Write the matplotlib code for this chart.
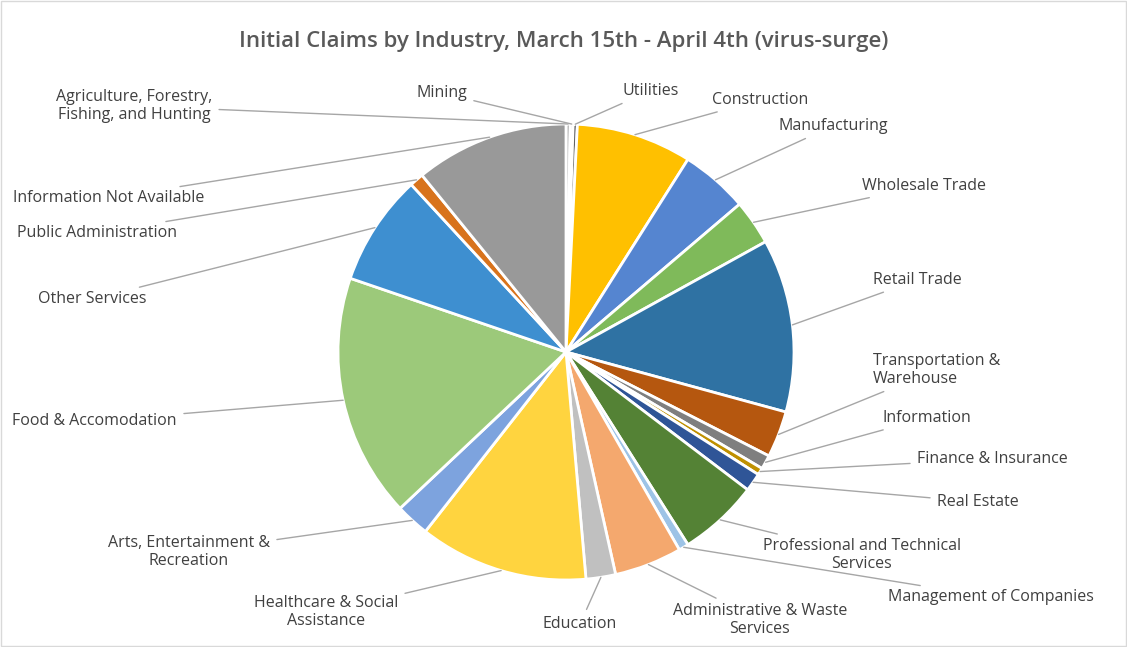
import matplotlib
matplotlib.use("Agg")
import matplotlib.pyplot as plt
import numpy as np
from matplotlib.patches import Rectangle

industries = ["Agriculture, Forestry,\nFishing, and Hunting", "Mining", "Utilities", "Construction",
              "Manufacturing", "Wholesale Trade", "Retail Trade", "Transportation &\nWarehouse",
              "Information", "Finance & Insurance", "Real Estate", "Professional and Technical\nServices",
              "Management of Companies", "Administrative & Waste\nServices", "Education",
              "Healthcare & Social\nAssistance", "Arts, Entertainment &\nRecreation", "Food & Accomodation",
              "Other Services", "Public Administration", "Information Not Available"]
shares = [0.3, 0.2, 0.3, 8.2, 4.8, 3.2, 12.3, 3.3, 1.0, 0.5, 1.3, 5.7, 0.7, 4.8, 2.1,
          12.0, 2.4, 17.3, 7.9, 1.0, 10.9]
colors = ["#A5A5A5", "#264478", "#636363", "#FFC000", "#5585D0", "#7FBA5A", "#2F72A3", "#B5570F",
          "#7F7F7F", "#BF9000", "#2F5597", "#548235", "#9DC3E6", "#F4A86E", "#C0C0C0",
          "#FFD43F", "#7DA3DE", "#9CC97A", "#3E8FD0", "#D8731C", "#999999"]
# label positions (pixels from top-left), alignment
label_pos = [(134, 106, "center"), (467, 93, "right"), (622, 91, "left"), (712, 100, "left"),
             (778, 126, "left"), (862, 186, "left"), (873, 280, "left"), (873, 370, "left"),
             (882, 418, "left"), (917, 459, "left"), (937, 502, "left"), (862, 555, "center"),
             (888, 597, "left"), (760, 620, "center"), (580, 624, "center"), (326, 612, "center"),
             (189, 552, "center"), (177, 421, "right"), (147, 299, "right"), (177, 233, "right"),
             (204, 198, "right")]

W, H = 1127, 647
fig = plt.figure(figsize=(W / 100, H / 100), dpi=100)
fig.patches.append(Rectangle((0.001, 0.001), 0.998, 0.997, transform=fig.transFigure,
                             fill=False, edgecolor="#D9D9D9", lw=1))
cx, cy, r = 566, 352, 228
ax = fig.add_axes([(cx - r) / W, (H - cy - r) / H, 2 * r / W, 2 * r / H])
wedges, _ = ax.pie(shares, colors=colors, startangle=90, counterclock=False,
                   wedgeprops=dict(edgecolor="white", linewidth=2))
ax.set_xlim(-1, 1); ax.set_ylim(-1, 1); ax.set_aspect("equal"); ax.axis("off")

for w, lab, (lx, ly, ha) in zip(wedges, industries, label_pos):
    ang = np.deg2rad((w.theta1 + w.theta2) / 2)
    x, y = np.cos(ang), np.sin(ang)
    ax.annotate(lab, xy=(x, y), xycoords="data", xytext=(lx, H - ly), textcoords="figure pixels",
                ha=ha, va="center", fontsize=11.5, color="#404040", family="Open Sans",
                multialignment="center" if ha == "center" else ha,
                arrowprops=dict(arrowstyle="-", color="#A6A6A6", lw=1, shrinkA=3, shrinkB=0))

fig.text(0.5, 1 - 42 / H, "Initial Claims by Industry, March 15th - April 4th (virus-surge)",
         ha="center", va="center", fontsize=16, color="#595959", family="Open Sans", weight="semibold")
fig.savefig("out.png", dpi=100)
